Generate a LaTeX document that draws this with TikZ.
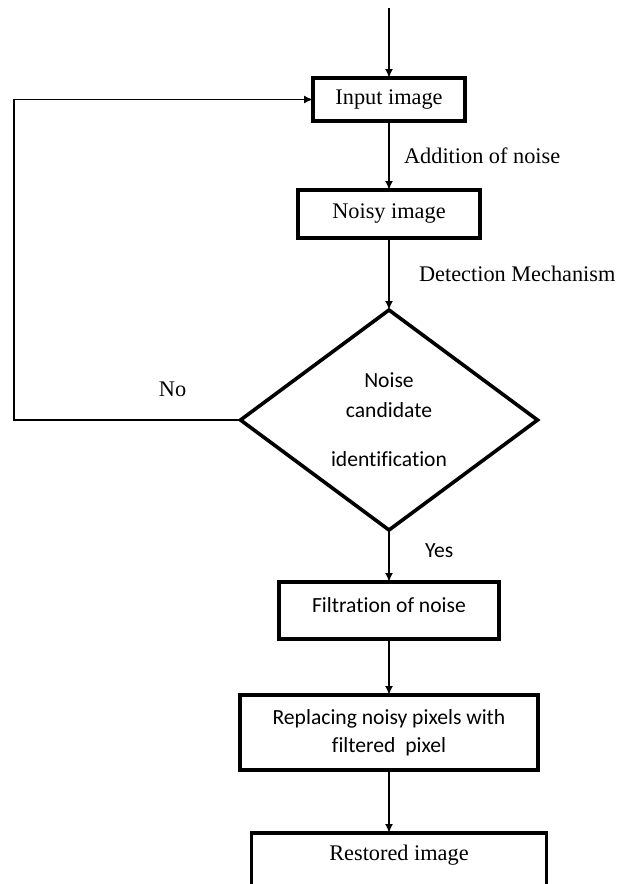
\documentclass[tikz,border=0pt]{standalone}
\usepackage{fontspec}
\setmainfont{Liberation Serif}
\newfontfamily\calibri[Ligatures=NoCommon]{Carlito}
\usetikzlibrary{shapes.geometric,arrows.meta,positioning,calc}

\begin{document}
\begin{tikzpicture}[
		% Style definitions
		procbox/.style={
			rectangle,
			draw=black,
			line width=1.9pt,
			inner sep=0pt,
			outer sep=0pt,
			align=center,
			font=\fontsize{11.15}{15}\selectfont
		},
		calibox/.style={
			procbox,
			font=\calibri\fontsize{10.8}{14}\selectfont
		},
		decision/.style={
			diamond,
			draw=black,
			line width=1.8pt,
			minimum width=148.5pt,
			minimum height=110pt,
			inner sep=0pt,
			outer sep=0pt,
			align=center,
			font=\calibri\fontsize{10.8}{15}\selectfont
		},
		arrow/.style={
			->,
			>={Latex[length=4.5pt,width=4pt]},
			line width=1.1pt,
			black
		},
		lbl/.style={font=\fontsize{11.15}{15}\selectfont, inner sep=0pt},
		calilbl/.style={font=\calibri\fontsize{10.8}{14}\selectfont, inner sep=0pt}
		]
		\useasboundingbox (0,0) rectangle (308.5pt,-442pt);
		
		% Flow chart stages
		\node[procbox, minimum width=76pt, minimum height=21.5pt] (input) at (194.5pt,-49.75pt) {Input image};
		\node[procbox, below=34.5pt of input, minimum width=91pt, minimum height=24pt] (noisy) {Noisy image};
		\node[decision, below=36pt of noisy] (decide) {Noise\\candidate\\[9.5pt]identification};
		\node[calibox, below=26pt of decide, minimum width=110pt, minimum height=28.5pt, text depth=6pt] (filter) {Filtration of noise};
		\node[calibox, below=28pt of filter, minimum width=149pt, minimum height=37.5pt] (replace) {Replacing noisy pixels with\\filtered\ \ pixel};
		\node[procbox, below=31.5pt of replace, xshift=5pt, minimum width=147.5pt, minimum height=28pt, text depth=8.4pt] (restored) {Restored image};
		
		% Free ends
		\coordinate[above=35pt of input] (start);
		\coordinate (loop) at (7pt,0);
		
		% Connection arrows
		\draw[arrow] (start) -- (input.north);
		\draw[arrow] (input.south) -- node[lbl, midway, right=7pt] {Addition of noise} (noisy.north);
		\draw[arrow] (noisy.south) -- node[lbl, midway, right=14.5pt] {Detection Mechanism} (decide.north);
		\draw[arrow] (decide.south) -- node[calilbl, pos=0.4, right=17.5pt] {Yes} (filter.north);
		\draw[arrow] (filter.south) -- (replace.north);
		\draw[arrow] (replace.south) -- (replace.south |- restored.north);
		
		% Feedback loop
		\draw[arrow, line width=0.8pt] (decide.west) -- node[lbl, pos=0.3, above=11pt] {No} (decide.west -| loop) |- (input.west);
		
	\end{tikzpicture}
\end{document}
